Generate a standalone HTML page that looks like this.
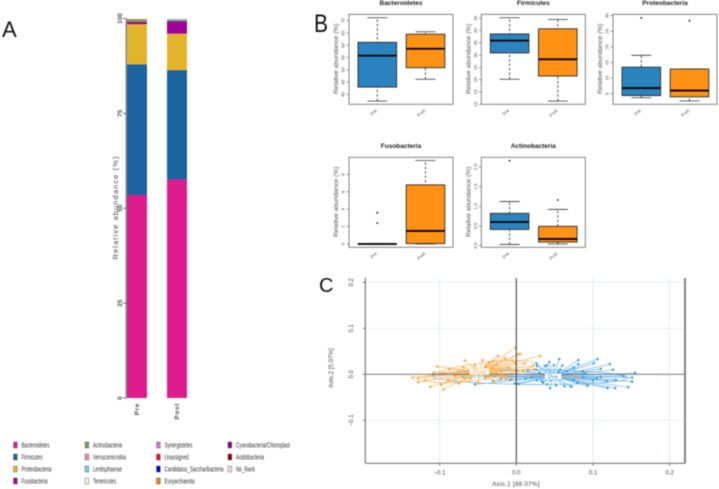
<!DOCTYPE html>
<html>
<head>
<meta charset="utf-8">
<title>Microbiome composition figure</title>
<style>
html,body{margin:0;padding:0;background:#fff;width:719px;height:489px;overflow:hidden}
svg{display:block;filter:blur(.5px)}
text{font-family:"Liberation Sans",sans-serif}
</style>
</head>
<body>
<svg id="fig" width="719" height="489" viewBox="0 0 719 489" xmlns="http://www.w3.org/2000/svg">
  <rect width="719" height="489" fill="#fff"/>
  <text x="2" y="37" font-size="22" fill="#111">A</text>
  <text x="314" y="32" font-size="25" fill="#111" textLength="14" lengthAdjust="spacingAndGlyphs">B</text>
  <text x="319" y="292" font-size="20" fill="#111">C</text>
  <g id="stack"></g>
  <g id="legend"></g>
  <g id="boxes"></g>
  <g id="pcoa"></g>
</svg>
<script>
// ---------- stacked bar data ----------
const stackCategories = ['Pre', 'Post'];
const stackTicks = [0, 25, 50, 75, 100];
const phyla = ['Bacteroidetes','Firmicutes','Proteobacteria','Fusobacteria','Actinobacteria','Verrucomicrobia','Lentisphaerae','Tenericutes','Synergistetes','Unassigned','Candidatus_Saccharibacteria','Euryarchaeota','Cyanobacteria/Chloroplast','Acidobacteria','No_Rank'];
const phylaPre  = [53.5,34.4,10.6,0.6,0.7,0.1,0,0.1,0,0,0,0,0,0,0];
const phylaPost = [57.6,28.8,9.6,3.3,0.3,0,0.3,0.1,0,0,0,0,0,0,0];
const phylaColors = ['#dc1c8c','#1b64a0','#e2b42c','#a0009a','#7f9a50','#f08a8a','#7fcbe0','#fbeedd','#e070e0','#f01010','#0000d0','#e88020','#8b008b','#8b0000','#ffd5d5'];
const legendTextWidths = [28,21,30,26,29,33,29,23,28,24,59,30,54,28,19];

// ---------- boxplot data: [low, q1, median, q3, high] ----------
const boxTitles = ['Bacteroidetes','Firmicutes','Proteobacteria','Fusobacteria','Actinobacteria'];
const bacteroidetesPre = [37.3,43,55.8,61.2,71.2];
const bacteroidetesPost = [46.2,50.9,58.6,64.5,65.5];
const firmicutesPre = [20.2,30.9,35.9,38.6,45.2];
const firmicutesPost = [11.3,21.5,28.3,40.7,44.5];
const proteobacteriaPre = [3.7,4.4,6.8,13.5,17.3];
const proteobacteriaPost = [2.7,4,6,12.9,12.9];
const fusobacteriaPre = [0,0,0,0.03,0.03];
const fusobacteriaPost = [0,0.05,1.5,6.8,9.6];
const actinobacteriaPre = [0.03,0.41,0.6,0.82,1.12];
const actinobacteriaPost = [0.04,0.09,0.17,0.49,0.92];
const outliersPre = [[],[],[29.3],[3.6,2.4],[2.16]];
const outliersPost = [[],[],[28.4],[],[1.16]];
const boxTickLabels = [
  ['40','45','50','55','60','65','70'],
  ['10','15','20','25','30','35','40','45'],
  ['5','10','15','20','25','30'],
  ['0','2','4','6','8'],
  ['0.0','0.5','1.0','1.5','2.0']
];
const boxDomains = [[36,72.6],[10,46.6],[1.6,30.45],[-0.38,9.97],[-0.043,2.245]];

// ---------- PCoA data: [axis1, axis2] ----------
const pcoaXTicks = ['-0.1','0.0','0.1','0.2'];
const pcoaYTicks = ['-0.1','0.0','0.1','0.2'];
const centroidPre = [0.048,-0.005];
const centroidPost = [-0.048,0.006];
const ellipseCenterPre = [0.018,-0.006];
const ellipseCenterPost = [-0.048,0.006];
const ellipseRadiiPre = [0.127,0.016];
const ellipseRadiiPost = [0.071,0.018];
const samplesPre = [[.106,.033],[.081,.031],[.056,.033],[.043,.027],[.122,.022],[.101,.024],[.081,.022],[.040,.020],[.049,.020],[.060,.019],[.026,.024],[.126,.010],[.155,.003],[.151,-.007],[.151,-.016],[.146,-.028],[.129,-.030],[.119,-.030],[.118,-.015],[.093,-.024],[.071,-.026],[.063,-.026],[.052,-.024],[.044,-.030],[.040,-.022],[.033,-.015],[.003,-.021],[.035,-.001],[.026,.010],[.087,.006],[.087,-.006],[.066,.006],[.057,.010],[.100,-.013],[-.008,-.012],[-.006,.001],[-.054,-.022],[-.002,-.020],[.000,.008],[-.109,.000],[-.040,-.004],[-.020,-.008],[.012,-.010],[.015,.008],[.020,-.006],[.030,.003],[.045,-.012],[.055,.004],[.075,-.012],[.075,.014],[.110,-.006],[.027,.018],[.037,.018],[.035,-.018],[.027,-.013],[.090,.002],[.105,-.009],[.130,-.012],[.140,-.004],[.080,-.018],[.110,.012],[.072,-.027],[.093,-.025],[-.030,-.014],[-.070,-.006]];
const samplesPost = [[-.135,-.007],[-.128,-.009],[-.128,-.017],[-.107,.004],[-.103,.017],[-.087,.011],[-.067,.030],[-.069,.015],[-.054,.020],[-.044,.031],[-.035,.027],[-.024,.040],[-.026,.020],[-.001,.058],[.003,.044],[-.112,-.027],[-.095,-.033],[-.098,-.023],[-.089,-.011],[-.067,-.010],[-.060,-.010],[-.040,-.010],[-.021,-.012],[-.006,-.008],[-.013,-.010],[.031,.040],[.005,.044],[.011,.024],[.022,.018],[.023,.011],[-.002,.025],[-.075,.006],[-.050,.008],[-.030,.012],[-.020,.006],[-.010,.015],[-.040,.018],[-.060,.005],[-.045,.002],[-.035,-.004],[-.025,.002],[-.015,-.003],[.000,.008],[.010,.006],[-.005,.030],[-.015,.035],[-.030,.030],[-.055,.012],[-.080,-.004],[-.095,.002],[-.075,-.020],[-.120,-.014],[-.050,-.018],[-.030,-.016],[.083,-.008]];

// ---------- helpers ----------
const NS = 'http://www.w3.org/2000/svg';
function mk(parent, tag, attrs, txt) {
  const n = document.createElementNS(NS, tag);
  for (const k in attrs) n.setAttribute(k, attrs[k]);
  if (txt !== undefined) n.textContent = txt;
  parent.appendChild(n);
  return n;
}
function slug(s) { return s.toLowerCase().replace(/[^a-z0-9]+/g, '-').replace(/^-|-$/g, ''); }

// ---------- stacked bars ----------
(function () {
  const g = document.getElementById('stack');
  const yS = v => 398 - v * 3.795;
  const barX = i => 127 + i * 40;
  let el = mk(g, 'line', {x1:126.3, x2:126.3, y1:yS(100), y2:yS(0), stroke:'#8a8a8a', 'stroke-width':1.6});
  
  
  stackTicks.forEach(t => {
    const tk = mk(g, 'line', {x1:123, x2:126, y1:yS(t), y2:yS(t), stroke:'#444', 'stroke-width':0.8});
    
    
    const tl = mk(g, 'text', {x:0, y:0, transform:`translate(122,${yS(t)}) rotate(-90)`, 'text-anchor':'middle', 'font-size':6.5, fill:'#555', 'font-weight':'bold'}, String(t));
    
    
  });
  const title = mk(g, 'text', {x:0, y:0, transform:'translate(118,208) rotate(-90)', 'text-anchor':'middle', 'font-size':7.5, fill:'#444', textLength:103, lengthAdjust:'spacing'}, 'Relative abundance (%)');
  
  
  [phylaPre, phylaPost].forEach((vals, i) => {
    let cum = 0;
    vals.forEach((v, j) => {
      if (v <= 0) return;
      const r = mk(g, 'rect', {x:barX(i), width:20, y:yS(cum + v), height:v * 3.795, fill:phylaColors[j]});
      
      
      cum += v;
    });
    const lb = mk(g, 'text', {x:0, y:0, transform:`translate(${barX(i) + 12},403) rotate(-90)`, 'text-anchor':'end', 'font-size':6.5, fill:'#555', 'font-weight':'bold', 'letter-spacing':0.6}, stackCategories[i]);
    
    
  });
})();

// ---------- legend ----------
(function () {
  const g = document.getElementById('legend');
  phyla.forEach((name, i) => {
    const col = Math.floor(i / 4), row = i % 4;
    const sx = 13.5 + col * 71.5, cy = 445 + row * 12;
    const s = mk(g, 'rect', {x:sx, y:cy - 3, width:3.8, height:6, fill:phylaColors[i], stroke:'#555', 'stroke-width':0.4});
    
    
    const t = mk(g, 'text', {x:sx + 8, y:cy + 2.6, 'font-size':7.5, fill:'#333', textLength:legendTextWidths[i], lengthAdjust:'spacingAndGlyphs'}, name);
    
    
  });
})();

// ---------- boxplots ----------
(function () {
  const root = document.getElementById('boxes');
  const preData = [bacteroidetesPre, firmicutesPre, proteobacteriaPre, fusobacteriaPre, actinobacteriaPre];
  const postData = [bacteroidetesPost, firmicutesPost, proteobacteriaPost, fusobacteriaPost, actinobacteriaPost];
  const fills = ['#2b84c0', '#ff9214'];
  boxTitles.forEach((name, p) => {
    const L = p === 2 ? 613 : (p === 1 || p === 4) ? 481.3 : 349;
    const T = p < 3 ? 14.3 : 157.3, W = 104, H = 90;
    const d = boxDomains[p];
    const y = v => T + H - (v - d[0]) / (d[1] - d[0]) * H;
    const g = mk(root, 'g', {});
    
    
    const tt = mk(g, 'text', {x:L + W / 2, y:T - 9.5, 'text-anchor':'middle', 'font-size':6.5, 'font-weight':'bold', fill:'#222'}, name);
    
    
    const yt = mk(g, 'text', {x:0, y:0, transform:`translate(${L - 11},${T + H / 2 - 0.5}) rotate(-90)`, 'text-anchor':'middle', 'font-size':6.6, fill:'#555'}, 'Relative abundance (%)');
    
    
    boxTickLabels[p].forEach(lbl => {
      const v = parseFloat(lbl);
      const tk = mk(g, 'line', {x1:L - 2.5, x2:L, y1:y(v), y2:y(v), stroke:'#555', 'stroke-width':0.6});
      
      
      const tl = mk(g, 'text', {x:0, y:0, transform:`translate(${L - 4.5},${y(v)}) rotate(-90)`, 'text-anchor':'middle', 'font-size':4.6, fill:'#555'}, lbl);
      
      
    });
    [preData[p], postData[p]].forEach((q, i) => {
      const cx = L + 28.3 + i * 48.2, hw = 19.3;
      const wh = mk(g, 'line', {x1:cx, x2:cx, y1:y(q[0]), y2:y(q[4]), stroke:'#222', 'stroke-width':0.8, 'stroke-dasharray':'2.4 2'});
      
      
      [q[0], q[4]].forEach(c => {
        const cap = mk(g, 'line', {x1:cx - 10, x2:cx + 10, y1:y(c), y2:y(c), stroke:'#333', 'stroke-width':0.8});
        
        
      });
      const b = mk(g, 'rect', {x:cx - hw, width:hw * 2, y:y(q[3]), height:Math.max(y(q[1]) - y(q[3]), 0.4), fill:fills[i], stroke:'#2a2a2a', 'stroke-width':0.9});
      
      
      const m = mk(g, 'line', {x1:cx - hw, x2:cx + hw, y1:y(q[2]), y2:y(q[2]), stroke:'#000', 'stroke-width':1.8});
      
      
      (i === 0 ? outliersPre[p] : outliersPost[p]).forEach(o => {
        const c = mk(g, 'circle', {cx:cx, cy:y(o), r:0.9, fill:'#111'});
        
        
      });
      const xl = mk(g, 'text', {x:0, y:0, transform:`translate(${cx},${T + H + 6.5}) rotate(-45)`, 'text-anchor':'end', 'font-size':4.6, fill:'#555'}, stackCategories[i]);
      
      
    });
    const f = mk(g, 'rect', {x:L, y:T, width:W, height:H, fill:'none', stroke:'#777', 'stroke-width':0.9});
    
    
  });
})();

// ---------- PCoA ----------
(function () {
  const g = document.getElementById('pcoa');
  const x = v => 516.3 + v * 767;
  const y = v => 374.3 - v * 460;
  const LEFT = 365.3, RIGHT = 685, TOP = 278, BOTTOM = 463.3;
  pcoaXTicks.forEach(t => {
    const v = parseFloat(t);
    if (v !== 0) {
      const gl = mk(g, 'line', {x1:x(v), x2:x(v), y1:TOP, y2:BOTTOM, stroke:'#e2ebf0', 'stroke-width':0.9});
      
      
    }
    const tk = mk(g, 'line', {x1:x(v), x2:x(v), y1:BOTTOM, y2:BOTTOM + 2.5, stroke:'#444', 'stroke-width':0.7});
    
    
    const tl = mk(g, 'text', {x:x(v), y:474.5, 'text-anchor':'middle', 'font-size':6, fill:'#444'}, t.replace('-', '\u2212'));
    
    
  });
  pcoaYTicks.forEach(t => {
    const v = parseFloat(t);
    if (v !== 0) {
      const gl = mk(g, 'line', {x1:LEFT, x2:RIGHT, y1:y(v), y2:y(v), stroke:'#e2ebf0', 'stroke-width':0.9});
      
      
    }
    const tk = mk(g, 'line', {x1:LEFT - 2.5, x2:LEFT, y1:y(v), y2:y(v), stroke:'#444', 'stroke-width':0.7});
    
    
    const tl = mk(g, 'text', {x:0, y:0, transform:`translate(353,${y(v)}) rotate(-90)`, 'text-anchor':'middle', 'font-size':6, fill:'#444'}, t.replace('-', '\u2212'));
    
    
  });
  const groups = [
    {label:'Post', pts:samplesPost, c:centroidPost, ec:ellipseCenterPost, er:ellipseRadiiPost, rot:-8, col:'#fdb45c', dot:'#f9a63f'},
    {label:'Pre', pts:samplesPre, c:centroidPre, ec:ellipseCenterPre, er:ellipseRadiiPre, rot:0.5, col:'#6db6ec', dot:'#3d9fe3'}
  ];
  [groups[1], groups[0]].forEach(gr => {
    const sub = mk(g, 'g', {});
    
    
    const ecx = x(gr.ec[0]), ecy = y(gr.ec[1]);
    const e = mk(sub, 'ellipse', {cx:ecx, cy:ecy, rx:gr.er[0] * 767, ry:gr.er[1] * 460, fill:'none', stroke:gr.col, 'stroke-width':0.8, transform:`rotate(${gr.rot} ${ecx} ${ecy})`});
    
    
    gr.pts.forEach(p => {
      const s = mk(sub, 'line', {x1:x(gr.c[0]), y1:y(gr.c[1]), x2:x(p[0]), y2:y(p[1]), stroke:gr.col, 'stroke-width':0.7});
      
      
    });
    gr.pts.forEach(p => {
      const d = mk(sub, 'circle', {cx:x(p[0]), cy:y(p[1]), r:1.25, fill:gr.dot});
      
      
    });
  });
  const h = mk(g, 'line', {x1:LEFT, x2:RIGHT, y1:y(0), y2:y(0), stroke:'#666', 'stroke-width':0.9});
  
  
  const v0 = mk(g, 'line', {x1:x(0), x2:x(0), y1:TOP, y2:BOTTOM, stroke:'#333', 'stroke-width':1});
  
  
  const al = mk(g, 'line', {x1:LEFT, x2:LEFT, y1:TOP, y2:BOTTOM, stroke:'#777', 'stroke-width':1.2});
  
  
  const ab = mk(g, 'line', {x1:LEFT, x2:RIGHT, y1:BOTTOM, y2:BOTTOM, stroke:'#777', 'stroke-width':1.2});
  
  
  const ar = mk(g, 'line', {x1:RIGHT, x2:RIGHT, y1:TOP, y2:BOTTOM, stroke:'#777', 'stroke-width':1.8});
  
  
  groups.forEach(gr => {
    const cx = x(gr.c[0]), cy = y(gr.c[1]), w = gr.label === 'Post' ? 20 : 17;
    const r = mk(g, 'rect', {x:cx - w / 2, y:cy - 3.2, width:w, height:6.4, rx:1, fill:'#fff', stroke:gr.col, 'stroke-width':0.5});
    
    
    const t = mk(g, 'text', {x:cx, y:cy + 2.3, 'text-anchor':'middle', 'font-size':6.5, fill:gr.dot}, gr.label);
    
    
  });
  const xt = mk(g, 'text', {x:516, y:486, 'text-anchor':'middle', 'font-size':6.2, fill:'#444', 'letter-spacing':0.3}, 'Axis.1  [88.07%]');
  
  
  const yt = mk(g, 'text', {x:0, y:0, transform:'translate(333,368) rotate(-90)', 'text-anchor':'middle', 'font-size':6.2, fill:'#444'}, 'Axis.2  [5.07%]');
  
  
})();
</script>
</body>
</html>
